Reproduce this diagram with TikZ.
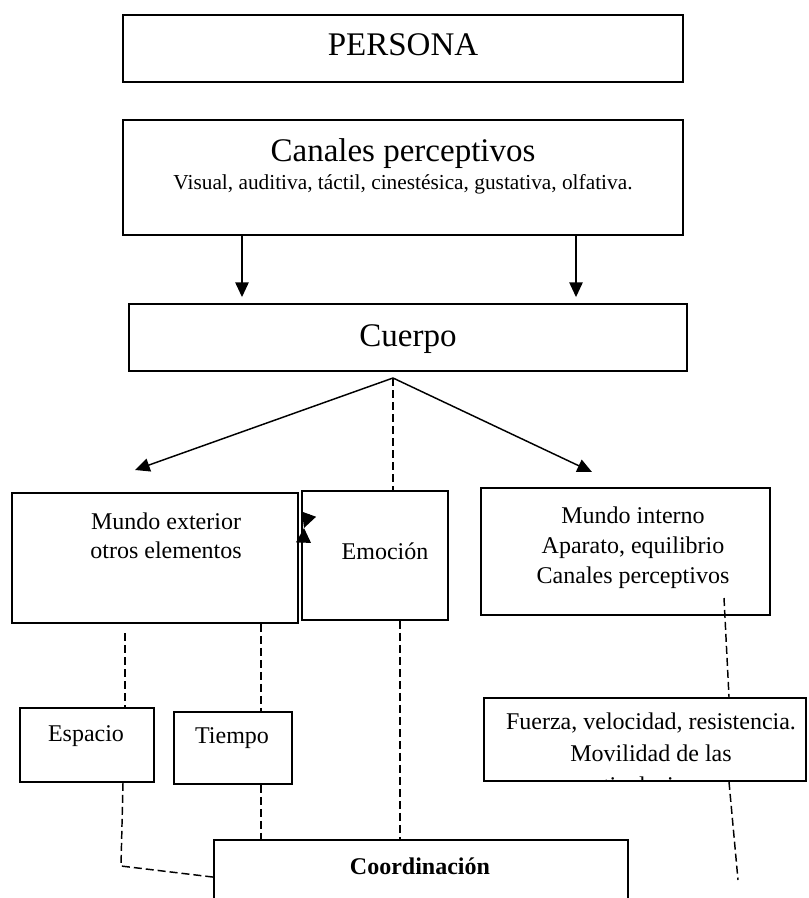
\documentclass[tikz,border=0pt]{standalone}
\usepackage{fontspec}
\setmainfont{Liberation Serif}
\usetikzlibrary{arrows.meta}

\begin{document}
\begin{tikzpicture}[x=0.75pt,y=-0.75pt,
    box/.style 2 args={draw,line width=1.4pt,inner sep=0pt,minimum width=#1*0.75pt,minimum height=#2*0.75pt},
    big/.style={anchor=base,font=\fontsize{24.75}{28}\selectfont},
    mid/.style={anchor=base,font=\fontsize{18}{22}\selectfont},
    small/.style={anchor=base,font=\fontsize{16}{19}\selectfont},
    tip/.style={line width=1.1pt,-{Triangle[length=11pt,width=10pt]}},
    bow/.style={line width=1.1pt,-{Triangle[length=11pt,width=11pt]}},
    dsh/.style={line width=1.1pt,dash pattern=on 6pt off 3pt}]
    \useasboundingbox (0,0) rectangle (808,898);
    \clip (0,0) rectangle (808,898);

    \node[box={560}{67}] (persona) at (403,48.5) {};
    \node[big] (personaT) at (403,56) {PERSONA};

    \node[box={560}{115}] (canales) at (403,177.5) {};
    \node[big] (canalesT) at (403,162) {Canales perceptivos};
    \node[small] (canalesS) at (403,190) {Visual, auditiva, táctil, cinestésica, gustativa, olfativa.};

    \node[box={558}{67}] (cuerpo) at (408,337.5) {};
    \node[big] (cuerpoT) at (408,346) {Cuerpo};

    \node[box={286}{130}] (mext) at (155,558) {};
    \node[mid] (mext1) at (166,529) {Mundo exterior};
    \node[mid] (mext2) at (166,558) {otros elementos};

    \node[box={146}{129}] (emocion) at (375,555.5) {};
    \node[mid] (emocionT) at (385,559) {Emoción};

    \node[box={289}{127}] (mint) at (625.5,551.5) {};
    \node[mid] (mint1) at (633,523) {Mundo interno};
    \node[mid] (mint2) at (633,553) {Aparato, equilibrio};
    \node[mid] (mint3) at (633,583) {Canales perceptivos};

    \node[box={134}{74}] (espacio) at (87,745) {};
    \node[mid] (espacioT) at (86,741) {Espacio};

    \node[box={118}{72}] (tiempo) at (233,748) {};
    \node[mid] (tiempoT) at (232,743) {Tiempo};

    \node[box={322}{83}] (fuerza) at (645,739.5) {};
    \node[mid] (fuerza1) at (651,729) {Fuerza, velocidad, resistencia.};
    \node[mid] (fuerza2) at (651,761) {Movilidad de las};
    \begin{scope}
      \clip (fuerza.north west) rectangle (fuerza.south east);
      \node[mid] (fuerza3) at (651,793) {articulaciones};
    \end{scope}

    \node[box={414}{100}] (coord) at (421,890) {};
    \node[mid] (coordT) at (420,874) {\textbf{Coordinación}};

    \coordinate (j) at (393,378);
    \coordinate (tl) at (135,470);
    \coordinate (tr) at (592,472);
    \coordinate (cl) at (242,0);
    \coordinate (cr) at (576,0);
    \coordinate (e1) at (125,633);
    \coordinate (cS) at (123,0);
    \coordinate (cT) at (261,0);
    \coordinate (cE) at (400,0);
    \coordinate (k) at (121,866);
    \coordinate (m1) at (724,598);
    \coordinate (cF) at (729,0);
    \coordinate (f2) at (738,880);
    \coordinate (bm) at (304,528);
    \coordinate (bt) at (309,514.2);
    \coordinate (bb) at (303.5,542.7);

    \draw[tip,shorten >=4.5pt] (canales.south -| cl) -- (cuerpo.north -| cl);
    \draw[tip,shorten >=4.5pt] (canales.south -| cr) -- (cuerpo.north -| cr);
    \draw[tip] (j) -- (tl);
    \draw[tip] (j) -- (tr);
    \draw[dsh] (j) -- (emocion.north -| j);
    \draw[bow] (bt) -- (bm);
    \draw[bow] (bb) -- (bm);
    \draw[dsh] (e1) -- (espacio.north -| e1);
    \draw[dsh] (mext.south -| cT) -- (tiempo.north -| cT);
    \draw[dsh] (espacio.south -| cS) -- (k) -- ([yshift=-28.5pt]coord.north west);
    \draw[dsh] (tiempo.south -| cT) -- (coord.north -| cT);
    \draw[dsh] (emocion.south -| cE) -- (coord.north -| cE);
    \draw[dsh] (m1) -- (fuerza.north -| cF);
    \draw[dsh] (fuerza.south -| cF) -- (f2);
  \end{tikzpicture}
\end{document}
